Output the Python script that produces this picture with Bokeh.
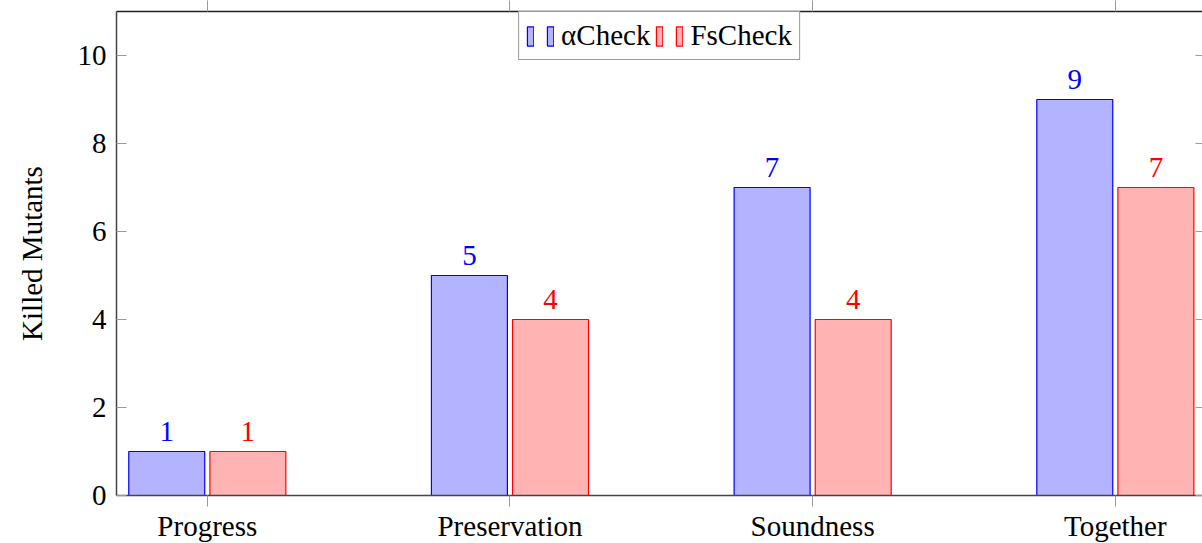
from bokeh.plotting import figure
from bokeh.models import (FixedTicker, LinearAxis, Range1d, Legend, LegendItem,
                          ColumnDataSource, LabelSet, CustomLabelingPolicy)
from bokeh.embed import file_html
from bokeh.resources import INLINE

categories = ["Progress", "Preservation", "Soundness", "Together"]
alpha_check = [1, 5, 7, 9]
fs_check = [1, 4, 4, 7]
y_ticks = [0, 2, 4, 6, 8, 10]
series_names = ["αCheck", "FsCheck"]

FONT = "Liberation Serif"
BLUE = "#0000ff"
BLUE_FILL = "#b3b3ff"
RED = "#ff0000"
RED_FILL = "#ffb3b3"
TICK = "#9a9a9a"
AXIS = "#444444"

xs = list(range(len(categories)))
off = 0.134
bw = 0.251

src_a = ColumnDataSource(dict(x=[x - off for x in xs], top=alpha_check,
                              lab=[str(v) for v in alpha_check]))
src_f = ColumnDataSource(dict(x=[x + off for x in xs], top=fs_check,
                              lab=[str(v) for v in fs_check]))

p = figure(frame_width=1086, frame_height=484,
           x_range=Range1d(-0.3, 3.288), y_range=Range1d(0, 11),
           output_backend="svg", toolbar_location=None,
           min_border_left=116, min_border_right=0, min_border_top=0,
           min_border_bottom=0, x_axis_location=None, y_axis_location=None)
p.outline_line_color = None
p.xgrid.visible = False
p.ygrid.visible = False
p.background_fill_color = "white"
p.border_fill_color = "white"

ra = p.vbar(x="x", top="top", width=bw, source=src_a,
            fill_color=BLUE_FILL, line_color=BLUE, line_width=1.2)
rf = p.vbar(x="x", top="top", width=bw, source=src_f,
            fill_color=RED_FILL, line_color=RED, line_width=1.2)

la = LabelSet(x="x", y="top", text="lab", source=src_a, text_color=BLUE,
              text_font=FONT, text_font_size="29px", text_align="center",
              text_baseline="alphabetic", y_offset=11)
lf = LabelSet(x="x", y="top", text="lab", source=src_f, text_color=RED,
              text_font=FONT, text_font_size="29px", text_align="center",
              text_baseline="alphabetic", y_offset=11)
p.add_layout(la)
p.add_layout(lf)

hide_all = CustomLabelingPolicy(
    code="for (const i of [...indices.ones()]) { indices.unset(i) }; return indices")

# left axis
yl = LinearAxis(ticker=FixedTicker(ticks=y_ticks), axis_label="Killed Mutants")
yl.major_tick_in = 10
yl.major_tick_out = 0
yl.minor_tick_line_color = None
yl.major_tick_line_color = TICK
yl.axis_line_color = AXIS
yl.axis_line_width = 1.5
yl.major_label_text_font = FONT
yl.major_label_text_font_size = "29px"
yl.major_label_text_color = "black"
yl.major_label_standoff = 10
yl.axis_label_text_font = FONT
yl.axis_label_text_font_size = "29px"
yl.axis_label_text_font_style = "normal"
yl.axis_label_text_color = "black"
yl.axis_label_standoff = 27
p.add_layout(yl, "left")

# right axis (ticks only)
yr = LinearAxis(ticker=FixedTicker(ticks=y_ticks), major_label_policy=hide_all)
yr.major_tick_in = 7
yr.major_tick_out = 0
yr.minor_tick_line_color = None
yr.major_tick_line_color = TICK
yr.axis_line_color = None
yr.major_label_standoff = 0
yr.major_label_text_font_size = "0px"
p.add_layout(yr, "right")

# bottom axis
xb = LinearAxis(ticker=FixedTicker(ticks=xs),
                major_label_overrides={i: c for i, c in zip(xs, categories)})
xb.major_tick_in = 0
xb.major_tick_out = 11
xb.minor_tick_line_color = None
xb.major_tick_line_color = TICK
xb.axis_line_color = AXIS
xb.axis_line_width = 1.5
xb.major_label_text_font = FONT
xb.major_label_text_font_size = "29px"
xb.major_label_text_color = "black"
xb.major_label_standoff = 3
p.add_layout(xb, "below")

# top axis (line + ticks)
xt = LinearAxis(ticker=FixedTicker(ticks=xs), major_label_policy=hide_all)
xt.major_tick_in = 0
xt.major_tick_out = 11
xt.minor_tick_line_color = None
xt.major_tick_line_color = TICK
xt.axis_line_color = "#222222"
xt.axis_line_width = 1.5
xt.major_label_standoff = 0
xt.major_label_text_font_size = "0px"
p.add_layout(xt, "above")

# pgfplots-style legend: two small bars before each label
legend = Legend(items=[
    LegendItem(label="", renderers=[ra]),
    LegendItem(label=series_names[0], renderers=[ra]),
    LegendItem(label="", renderers=[rf]),
    LegendItem(label=series_names[1], renderers=[rf]),
], location="top", orientation="horizontal")
legend.margin = 0
legend.padding = 7
legend.spacing = 5
legend.label_standoff = 7
legend.label_width = 0
legend.glyph_width = 8
legend.glyph_height = 24
legend.label_text_font = FONT
legend.label_text_font_size = "29px"
legend.label_text_color = "black"
legend.border_line_color = "#333333"
legend.border_line_width = 1.5
legend.background_fill_alpha = 1
p.add_layout(legend, "center")

open("out.html", "w").write(file_html(p, INLINE))
